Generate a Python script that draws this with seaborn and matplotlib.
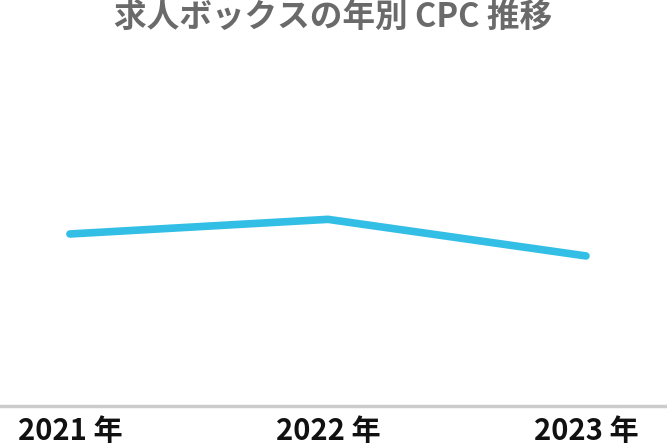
import matplotlib
matplotlib.use("Agg")
import matplotlib.pyplot as plt
import pandas as pd
import seaborn as sns

sns.set_theme(style="white")
plt.rcParams["font.family"] = ["Noto Sans CJK JP", "DejaVu Sans"]

years = ["2021 年", "2022 年", "2023 年"]
cpc = [47, 51, 41]

df = pd.DataFrame({"year": years, "cpc": cpc, "pos": range(len(years))})

fig = plt.figure(figsize=(6.67, 4.48), dpi=100)
ax = fig.add_axes([0, 42 / 448, 1, 366 / 448])

sns.lineplot(data=df, x="pos", y="cpc", color="#33bfe5", linewidth=5.5,
             solid_capstyle="round", solid_joinstyle="miter", ax=ax)

ax.set_xlim(-0.271, 2.314)
ax.set_ylim(0, 100)
ax.set_xticks(df["pos"])
ax.set_xticklabels(years, fontsize=21, fontweight="bold", color="#111111")
ax.tick_params(axis="x", length=0, pad=7)
ax.set_yticks([])
ax.set_xlabel("")
ax.set_ylabel("")
for side in ["top", "left", "right"]:
    ax.spines[side].set_visible(False)
ax.spines["bottom"].set_color("#cccccc")
ax.spines["bottom"].set_linewidth(2.5)

fig.text(0.5, 1 - 18 / 448, "求人ボックスの年別 CPC 推移", ha="center", va="center",
         fontsize=23.5, fontweight="bold", color="#6a6a6a")

fig.savefig("out.png", dpi=100)
